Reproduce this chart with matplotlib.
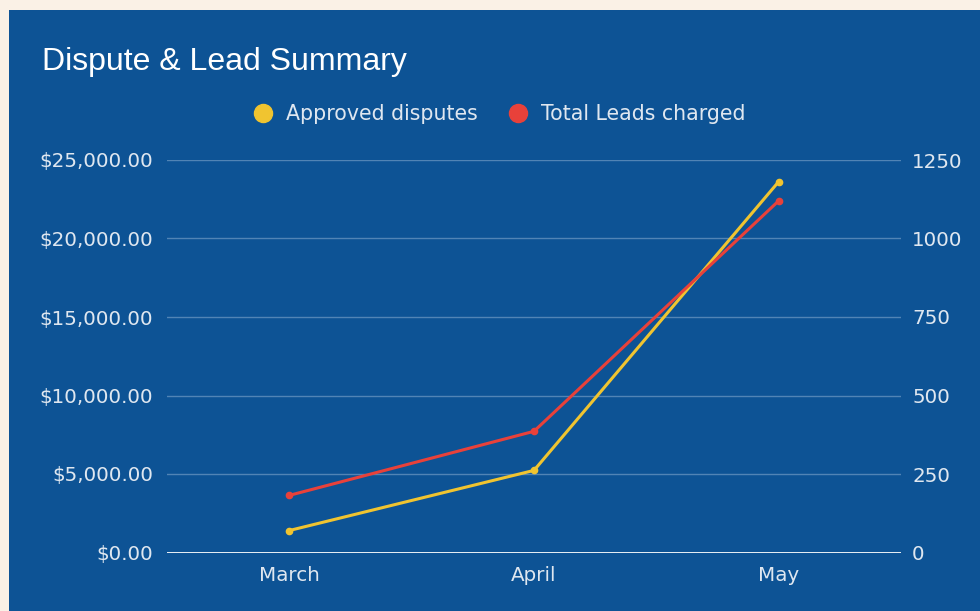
import matplotlib.pyplot as plt
from matplotlib.patches import Rectangle
from matplotlib.lines import Line2D
from matplotlib.ticker import FuncFormatter

# data
months = ['March', 'April', 'May']
approved_disputes = [1400, 5230, 23620]   # left axis, dollars
leads_charged = [182, 386, 1120]          # right axis, count

left_ticks = [0, 5000, 10000, 15000, 20000, 25000]
right_ticks = [0, 250, 500, 750, 1000, 1250]

W, H = 980, 611
bg_blue = '#0d5395'
yellow = '#f0c430'
red = '#e8413a'
txt = '#dfe7f0'

fig = plt.figure(figsize=(W / 100, H / 100), dpi=100)
fig.patch.set_facecolor('#faf1e6')
fig.patches.append(Rectangle((9 / W, 0), 1 - 9 / W, (H - 10) / H,
                             transform=fig.transFigure, facecolor=bg_blue,
                             edgecolor='none', zorder=-10))

ax = fig.add_axes([167 / W, (H - 552.5) / H, 734 / W, 392.5 / H])
ax.set_facecolor('none')
ax2 = ax.twinx()

x = list(range(len(months)))
ax.plot(x, approved_disputes, color=yellow, lw=2.2, marker='o', ms=4.5, zorder=3)
ax2.plot(x, leads_charged, color=red, lw=2.2, marker='o', ms=4.5, zorder=3)

ax.set_xlim(-0.5, len(months) - 0.5)
ax.set_ylim(0, 25000)
ax2.set_ylim(0, 1250)
ax.set_yticks(left_ticks)
ax2.set_yticks(right_ticks)
ax.yaxis.set_major_formatter(FuncFormatter(lambda v, p: '${:,.2f}'.format(v)))
ax.set_xticks(x)
ax.set_xticklabels(months)

for v in left_ticks[1:]:
    ax.axhline(v, color='#7fa6cc', lw=1, alpha=0.6, zorder=1)
ax2.axhline(0, color='white', lw=2, zorder=2)

for a in (ax, ax2):
    for s in a.spines.values():
        s.set_visible(False)
    a.tick_params(length=0, colors=txt, labelsize=14.3)
ax.tick_params(axis='y', pad=10)
ax2.tick_params(axis='y', pad=8)
ax.tick_params(axis='x', pad=10)

fig.text(42 / W, 1 - 62 / H, 'Dispute & Lead Summary', color='white',
         fontsize=23, family='Liberation Sans', va='center', ha='left')

handles = [Line2D([], [], ls='none', marker='o', ms=13, color=yellow),
           Line2D([], [], ls='none', marker='o', ms=13, color=red)]
fig.legend(handles, ['Approved disputes', 'Total Leads charged'], ncol=2,
           loc='center', bbox_to_anchor=(494 / W, 1 - 114 / H), frameon=False,
           labelcolor=txt, fontsize=14.8, handletextpad=0.1, columnspacing=1.0)

fig.savefig('out.png', dpi=100, facecolor=fig.get_facecolor())
